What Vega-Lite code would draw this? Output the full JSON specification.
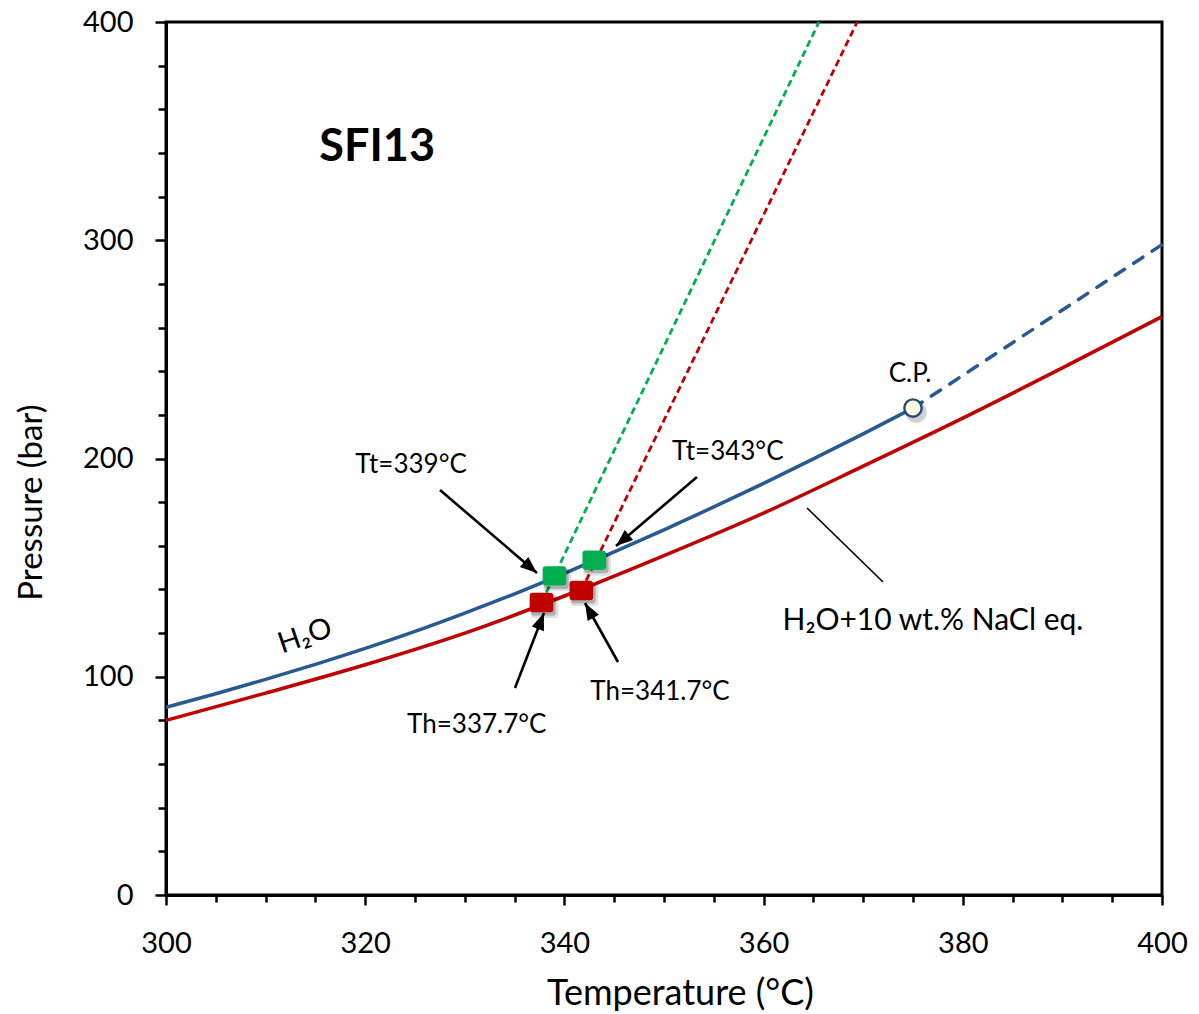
{
  "$schema": "https://vega.github.io/schema/vega-lite/v6.json",
  "width": 996,
  "height": 873,
  "autosize": {"type": "none"},
  "padding": {"left": 166, "top": 22, "right": 37, "bottom": 119},
  "background": "white",
  "config": {
    "font": "Lato",
    "view": {"stroke": "black", "strokeWidth": 3},
    "axis": {
      "domainColor": "black",
      "domainWidth": 3,
      "tickColor": "black",
      "tickWidth": 2.5,
      "labelColor": "black",
      "titleColor": "black",
      "labelFont": "Lato",
      "titleFont": "Lato",
      "labelFontSize": 29,
      "titleFontSize": 32,
      "titleFontWeight": "normal",
      "grid": false,
      "labelFlush": false,
      "labelOverlap": false
    }
  },
  "datasets": {
    "h2o": [
      {"T": 300, "P": 86.0}, {"T": 305, "P": 92.2}, {"T": 310, "P": 98.8},
      {"T": 315, "P": 105.7}, {"T": 320, "P": 113.0}, {"T": 325, "P": 120.8},
      {"T": 330, "P": 129.2}, {"T": 335, "P": 138.0}, {"T": 340, "P": 147.4},
      {"T": 345, "P": 157.2}, {"T": 350, "P": 167.3}, {"T": 355, "P": 177.8},
      {"T": 360, "P": 188.6}, {"T": 365, "P": 199.8}, {"T": 370, "P": 211.3},
      {"T": 375, "P": 223.1}
    ],
    "h2oSupercritical": [
      {"T": 375, "P": 223.1}, {"T": 400, "P": 298.0}
    ],
    "nacl10": [
      {"T": 300, "P": 80.0}, {"T": 310, "P": 92.5}, {"T": 320, "P": 105.5},
      {"T": 330, "P": 120.0}, {"T": 340, "P": 137.0}, {"T": 350, "P": 155.5},
      {"T": 360, "P": 175.0}, {"T": 370, "P": 196.5}, {"T": 380, "P": 218.5},
      {"T": 390, "P": 241.5}, {"T": 400, "P": 265.0}
    ],
    "isochore339": [
      {"T": 337.7, "P": 134.0}, {"T": 365.56, "P": 400}
    ],
    "isochore343": [
      {"T": 341.7, "P": 139.5}, {"T": 369.4, "P": 400}
    ],
    "markers": [
      {"kind": "Tt", "T": 339, "P": 146.2},
      {"kind": "Tt", "T": 343, "P": 153.4},
      {"kind": "Th", "T": 337.7, "P": 134.0},
      {"kind": "Th", "T": 341.7, "P": 139.5}
    ],
    "criticalPoint": [
      {"T": 375, "P": 223.1}
    ],
    "arrows": [
      {"label": "Tt339", "t1": 327.51, "p1": 185.57, "t2": 337.25, "p2": 147.54},
      {"label": "Tt343", "t1": 353.31, "p1": 191.52, "t2": 345.18, "p2": 159.91},
      {"label": "Th337", "t1": 335.04, "p1": 94.85, "t2": 337.95, "p2": 129.21},
      {"label": "Th341", "t1": 345.38, "p1": 106.76, "t2": 342.07, "p2": 133.79}
    ],
    "leader": [
      {"t1": 364.36, "p1": 177.32, "t2": 371.99, "p2": 143.41}
    ],
    "callouts": [
      {"text": "Tt=339°C", "T": 324.6, "P": 197.0},
      {"text": "Tt=343°C", "T": 356.4, "P": 203.0},
      {"text": "Th=337.7°C", "T": 331.2, "P": 77.9},
      {"text": "Th=341.7°C", "T": 349.6, "P": 93.0},
      {"text": "C.P.", "T": 374.7, "P": 238.7}
    ],
    "solutionName": [
      {"text": "H₂O+10 wt.% NaCl eq.", "T": 377.0, "P": 125.5}
    ],
    "curveName": [
      {"text": "H₂O", "T": 313.96, "P": 118.7}
    ],
    "sample": [
      {"text": "SFI13", "T": 321.2, "P": 342.7}
    ]
  },
  "layer": [
    {
      "data": {"name": "h2o"},
      "mark": {"type": "line", "color": "#275A92", "strokeWidth": 3.5, "interpolate": "monotone"},
      "encoding": {
        "x": {
          "field": "T", "type": "quantitative",
          "scale": {"domain": [300, 400], "nice": false, "zero": false},
          "axis": {
            "title": "Temperature (°C)",
            "titleFontSize": 36,
            "titleX": 514,
            "values": [300, 305, 310, 315, 320, 325, 330, 335, 340, 345, 350, 355, 360, 365, 370, 375, 380, 385, 390, 395, 400],
            "labelExpr": "datum.value % 20 === 0 ? datum.label : ''",
            "tickSize": {"condition": {"test": "datum.value % 20 === 0", "value": 10}, "value": 7},
            "labelPadding": 24,
            "titlePadding": 18
          }
        },
        "y": {
          "field": "P", "type": "quantitative",
          "scale": {"domain": [0, 400], "nice": false, "zero": true},
          "axis": {
            "title": "Pressure (bar)",
            "titleFontSize": 33,
            "titleY": 480,
            "values": [0, 20, 40, 60, 80, 100, 120, 140, 160, 180, 200, 220, 240, 260, 280, 300, 320, 340, 360, 380, 400],
            "labelExpr": "datum.value % 100 === 0 ? datum.label : ''",
            "tickSize": {"condition": {"test": "datum.value % 100 === 0", "value": 11}, "value": 8},
            "labelPadding": 22,
            "titlePadding": 34
          }
        }
      }
    },
    {
      "data": {"name": "h2oSupercritical"},
      "mark": {"type": "line", "color": "#275A92", "strokeWidth": 3.5, "strokeDash": [11, 11], "strokeCap": "round"},
      "encoding": {"x": {"field": "T", "type": "quantitative"}, "y": {"field": "P", "type": "quantitative"}}
    },
    {
      "data": {"name": "nacl10"},
      "mark": {"type": "line", "color": "#C00000", "strokeWidth": 3.5, "interpolate": "monotone"},
      "encoding": {"x": {"field": "T", "type": "quantitative"}, "y": {"field": "P", "type": "quantitative"}}
    },
    {
      "data": {"name": "isochore339"},
      "mark": {"type": "line", "color": "#00B050", "strokeWidth": 2.8, "strokeDash": [7, 4]},
      "encoding": {"x": {"field": "T", "type": "quantitative"}, "y": {"field": "P", "type": "quantitative"}}
    },
    {
      "data": {"name": "isochore343"},
      "mark": {"type": "line", "color": "#C00000", "strokeWidth": 2.8, "strokeDash": [7, 4]},
      "encoding": {"x": {"field": "T", "type": "quantitative"}, "y": {"field": "P", "type": "quantitative"}}
    },
    {
      "data": {"name": "arrows"},
      "mark": {"type": "rule", "color": "black", "strokeWidth": 2.6},
      "encoding": {
        "x": {"field": "t1", "type": "quantitative"}, "y": {"field": "p1", "type": "quantitative"},
        "x2": {"field": "t2"}, "y2": {"field": "p2"}
      }
    },
    {
      "data": {"name": "arrows"},
      "transform": [{"filter": "datum.label === 'Tt339'"}],
      "mark": {"type": "point", "filled": true, "color": "black", "opacity": 1, "size": 400, "angle": 130.5, "shape": "M 0 0 L 0.65 1.7 L -0.65 1.7 Z"},
      "encoding": {"x": {"field": "t2", "type": "quantitative"}, "y": {"field": "p2", "type": "quantitative"}}
    },
    {
      "data": {"name": "arrows"},
      "transform": [{"filter": "datum.label === 'Tt343'"}],
      "mark": {"type": "point", "filled": true, "color": "black", "opacity": 1, "size": 400, "angle": -130.4, "shape": "M 0 0 L 0.65 1.7 L -0.65 1.7 Z"},
      "encoding": {"x": {"field": "t2", "type": "quantitative"}, "y": {"field": "p2", "type": "quantitative"}}
    },
    {
      "data": {"name": "arrows"},
      "transform": [{"filter": "datum.label === 'Th337'"}],
      "mark": {"type": "point", "filled": true, "color": "black", "opacity": 1, "size": 400, "angle": 21.1, "shape": "M 0 0 L 0.65 1.7 L -0.65 1.7 Z"},
      "encoding": {"x": {"field": "t2", "type": "quantitative"}, "y": {"field": "p2", "type": "quantitative"}}
    },
    {
      "data": {"name": "arrows"},
      "transform": [{"filter": "datum.label === 'Th341'"}],
      "mark": {"type": "point", "filled": true, "color": "black", "opacity": 1, "size": 400, "angle": -29.2, "shape": "M 0 0 L 0.65 1.7 L -0.65 1.7 Z"},
      "encoding": {"x": {"field": "t2", "type": "quantitative"}, "y": {"field": "p2", "type": "quantitative"}}
    },
    {
      "data": {"name": "leader"},
      "mark": {"type": "rule", "color": "black", "strokeWidth": 1.6},
      "encoding": {
        "x": {"field": "t1", "type": "quantitative"}, "y": {"field": "p1", "type": "quantitative"},
        "x2": {"field": "t2"}, "y2": {"field": "p2"}
      }
    },
    {
      "data": {"name": "markers"},
      "mark": {"type": "point", "filled": true, "color": "black", "opacity": 0.12, "size": 780, "xOffset": 3, "yOffset": 4,
               "shape": "M -0.72 -0.82 L 0.72 -0.82 Q 1 -0.82 1 -0.54 L 1 0.54 Q 1 0.82 0.72 0.82 L -0.72 0.82 Q -1 0.82 -1 0.54 L -1 -0.54 Q -1 -0.82 -0.72 -0.82 Z"},
      "encoding": {"x": {"field": "T", "type": "quantitative"}, "y": {"field": "P", "type": "quantitative"}}
    },
    {
      "data": {"name": "markers"},
      "mark": {"type": "point", "filled": true, "color": "black", "opacity": 0.22, "size": 600, "xOffset": 2, "yOffset": 3,
               "shape": "M -0.72 -0.82 L 0.72 -0.82 Q 1 -0.82 1 -0.54 L 1 0.54 Q 1 0.82 0.72 0.82 L -0.72 0.82 Q -1 0.82 -1 0.54 L -1 -0.54 Q -1 -0.82 -0.72 -0.82 Z"},
      "encoding": {"x": {"field": "T", "type": "quantitative"}, "y": {"field": "P", "type": "quantitative"}}
    },
    {
      "data": {"name": "markers"},
      "mark": {"type": "point", "filled": true, "opacity": 1, "size": 560,
               "shape": "M -0.72 -0.82 L 0.72 -0.82 Q 1 -0.82 1 -0.54 L 1 0.54 Q 1 0.82 0.72 0.82 L -0.72 0.82 Q -1 0.82 -1 0.54 L -1 -0.54 Q -1 -0.82 -0.72 -0.82 Z"},
      "encoding": {
        "x": {"field": "T", "type": "quantitative"},
        "y": {"field": "P", "type": "quantitative"},
        "color": {"field": "kind", "type": "nominal", "scale": {"domain": ["Tt", "Th"], "range": ["#00B050", "#C00000"]}, "legend": null}
      }
    },
    {
      "data": {"name": "criticalPoint"},
      "mark": {"type": "point", "shape": "circle", "filled": true, "color": "black", "opacity": 0.18, "size": 460, "xOffset": 3, "yOffset": 4},
      "encoding": {"x": {"field": "T", "type": "quantitative"}, "y": {"field": "P", "type": "quantitative"}}
    },
    {
      "data": {"name": "criticalPoint"},
      "mark": {"type": "point", "shape": "circle", "filled": true, "fill": "#FFFCDC", "stroke": "#1F4E79", "strokeWidth": 2.4, "opacity": 1, "size": 300},
      "encoding": {"x": {"field": "T", "type": "quantitative"}, "y": {"field": "P", "type": "quantitative"}}
    },
    {
      "data": {"name": "callouts"},
      "mark": {"type": "text", "font": "Lato", "fontSize": 26, "color": "black", "align": "center", "baseline": "middle"},
      "encoding": {"x": {"field": "T", "type": "quantitative"}, "y": {"field": "P", "type": "quantitative"}, "text": {"field": "text"}}
    },
    {
      "data": {"name": "solutionName"},
      "mark": {"type": "text", "font": "Lato", "fontSize": 30, "color": "black", "align": "center", "baseline": "middle"},
      "encoding": {"x": {"field": "T", "type": "quantitative"}, "y": {"field": "P", "type": "quantitative"}, "text": {"field": "text"}}
    },
    {
      "data": {"name": "curveName"},
      "mark": {"type": "text", "font": "Lato", "fontSize": 29, "color": "black", "align": "center", "baseline": "middle", "angle": 341},
      "encoding": {"x": {"field": "T", "type": "quantitative"}, "y": {"field": "P", "type": "quantitative"}, "text": {"field": "text"}}
    },
    {
      "data": {"name": "sample"},
      "mark": {"type": "text", "font": "Lato", "fontSize": 45, "fontWeight": "bold", "color": "black", "align": "center", "baseline": "middle"},
      "encoding": {"x": {"field": "T", "type": "quantitative"}, "y": {"field": "P", "type": "quantitative"}, "text": {"field": "text"}}
    }
  ]
}
